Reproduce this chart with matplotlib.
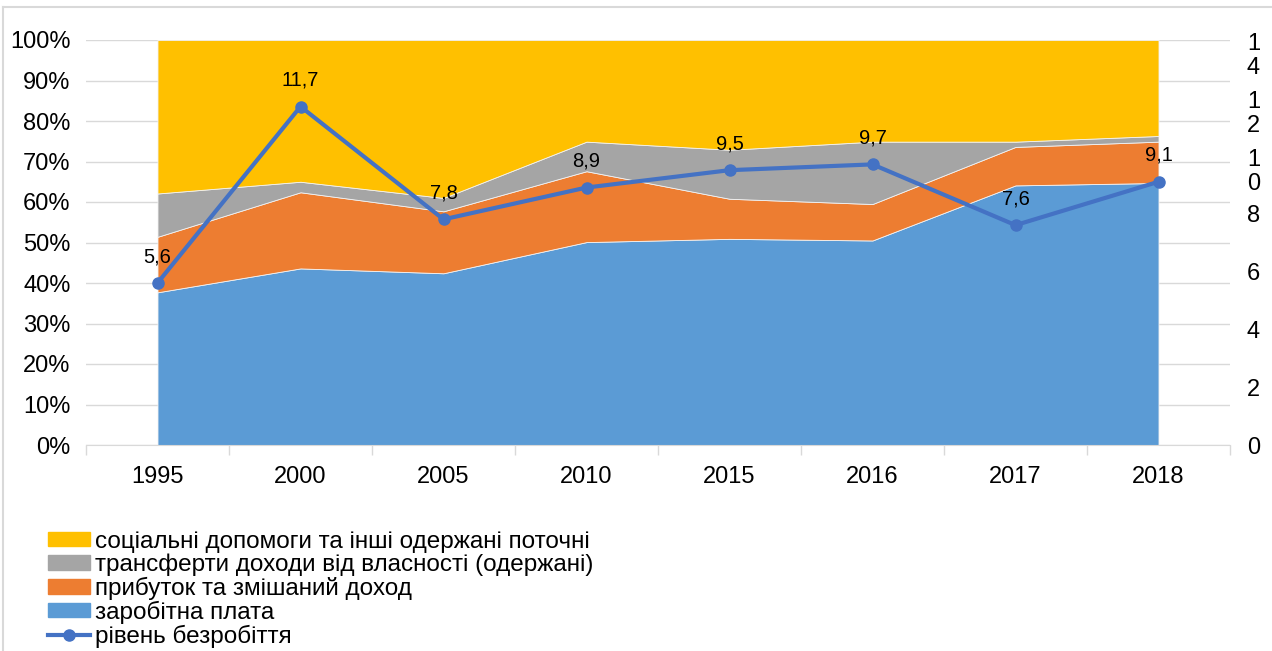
import matplotlib
matplotlib.use('Agg')
import matplotlib.pyplot as plt
from matplotlib.lines import Line2D
from matplotlib.patches import Patch
from matplotlib.transforms import offset_copy

plt.rcParams['font.family'] = ['Liberation Sans', 'DejaVu Sans']

years = ['1995', '2000', '2005', '2010', '2015', '2016', '2017', '2018']
# shares of income, %
wages = [37.7, 43.6, 42.4, 50.1, 50.9, 50.5, 64.1, 64.7]
profit = [13.7, 18.8, 15.3, 17.5, 9.9, 9.0, 9.5, 10.2]
property_inc = [10.7, 2.6, 3.3, 7.3, 12.1, 15.4, 1.3, 1.4]
social = [37.9, 35.0, 39.0, 25.1, 27.1, 25.1, 25.1, 23.7]
# unemployment rate, %
unemp = [5.6, 11.7, 7.8, 8.9, 9.5, 9.7, 7.6, 9.1]
unemp_labels = ['5,6', '11,7', '7,8', '8,9', '9,5', '9,7', '7,6', '9,1']

names = ['соціальні допомоги та інші одержані поточні',
         'трансферти доходи від власності (одержані)',
         'прибуток та змішаний доход',
         'заробітна плата',
         'рівень безробіття']

c_social = '#FFC000'
c_prop = '#A5A5A5'
c_profit = '#ED7D31'
c_wage = '#5B9BD5'
c_line = '#4472C4'
grid_c = '#D9D9D9'

fig = plt.figure(figsize=(12.72, 6.51), dpi=100)
ax = fig.add_axes([86/1272, 1 - 445/651, (1230-86)/1272, (445-40)/651])

x = list(range(len(years)))
ax.stackplot(x, wages, profit, property_inc, social,
             colors=[c_wage, c_profit, c_prop, c_social],
             edgecolor='#F2F2F2', linewidth=0.6, zorder=2)

ax.set_xlim(-0.5, len(years) - 0.5)
ax.set_ylim(0, 100)
ax.set_yticks(range(0, 101, 10))
ax.set_yticklabels([f'{v}%' for v in range(0, 101, 10)])
ax.yaxis.grid(True, color=grid_c, lw=1, zorder=0)
ax.set_axisbelow(True)
ax.set_xticks(x)
ax.set_xticklabels(years)
ax.set_xticks([i - 0.5 for i in range(len(years) + 1)], minor=True)
ax.tick_params(axis='x', which='major', length=0, labelsize=17, pad=15)
ax.tick_params(axis='x', which='minor', length=7, color=grid_c, width=1)
ax.tick_params(axis='y', length=0, labelsize=17, pad=11)
for s in ['top', 'right', 'left']:
    ax.spines[s].set_visible(False)
ax.spines['bottom'].set_color(grid_c)

ax2 = ax.twinx()
ax2.set_ylim(0, 14)
ax2.set_yticks(range(0, 15, 2))
ax2.tick_params(axis='y', length=0, labelright=False)
for s in ax2.spines.values():
    s.set_visible(False)

# right axis labels, wrapped digit by digit as in the source
trans = ax2.get_yaxis_transform()
for v in range(0, 15, 2):
    s = str(v)
    if len(s) == 1:
        ax2.text(1.0148, v, s, transform=trans, fontsize=17,
                 va='center_baseline', ha='left')
    else:
        t = offset_copy(trans, fig=fig, x=0, y=5, units='points')
        ax2.text(1.0148, v, '\n'.join(s), transform=t, fontsize=17,
                 va='top', ha='left', linespacing=1.12)

ax2.plot(x, unemp, color=c_line, lw=3, marker='o', ms=8, zorder=5)
for xi, v, lab in zip(x, unemp, unemp_labels):
    ax2.annotate(lab, (xi, v), xytext=(0, 19), textcoords='offset points',
                 ha='center', va='center', fontsize=14.5)

handles = [Patch(color=c_social), Patch(color=c_prop), Patch(color=c_profit),
           Patch(color=c_wage),
           Line2D([], [], color=c_line, lw=3, marker='o', ms=8)]
fig.legend(handles, names, loc='upper left', bbox_to_anchor=(38/1272, 1 - 521/651),
           frameon=False, fontsize=17.5, handlelength=1.75, handleheight=0.55,
           handletextpad=0.2, labelspacing=0.03, borderaxespad=0)

# chart border
fig.add_artist(Line2D([3/1272, 1], [1 - 7/651, 1 - 7/651], color=grid_c, lw=1.5,
                      transform=fig.transFigure))
fig.add_artist(Line2D([3/1272, 3/1272], [0, 1 - 7/651], color=grid_c, lw=1.5,
                      transform=fig.transFigure))

fig.savefig('out.png', dpi=100)
